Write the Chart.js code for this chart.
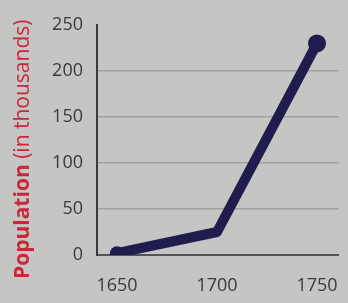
<!DOCTYPE html>
<html>
<head>
<meta charset="utf-8">
<script src="https://cdn.jsdelivr.net/npm/chart.js@4"></script>
<style>
  html, body { margin: 0; padding: 0; background: #c5c5c3; }
  #wrap { width: 348px; height: 303px; position: relative; }
</style>
</head>
<body>
<div id="wrap"><canvas id="chart"></canvas></div>
<script>
// data
const years = [1650, 1700, 1750];
const population = [2, 25, 230];
const yTicks = [0, 50, 100, 150, 200, 250];

// rotated y title, "Population" bold + "(in thousands)" regular
const yTitle = {
  id: 'yTitle',
  afterDraw(chart) {
    const ctx = chart.ctx;
    ctx.save();
    ctx.translate(29, 279);
    ctx.rotate(-Math.PI / 2);
    ctx.fillStyle = '#c9283a';
    ctx.textBaseline = 'alphabetic';
    ctx.textAlign = 'left';
    ctx.font = 'bold 21px "Open Sans", sans-serif';
    ctx.fillText('Population', 0, 0);
    const w = ctx.measureText('Population ').width;
    ctx.font = '21px "Open Sans", sans-serif';
    ctx.fillText('(in thousands)', w, 0);
    ctx.restore();
  }
};

new Chart(document.getElementById('chart'), {
  type: 'line',
  data: {
    datasets: [{
      data: years.map((y, i) => ({ x: y, y: population[i] })),
      borderColor: '#211c4e',
      backgroundColor: '#211c4e',
      borderWidth: 10,
      tension: 0,
      pointRadius: [7, 0, 9],
      pointBorderWidth: 0,
      borderCapStyle: 'round',
      borderJoinStyle: 'round',
    }],
  },
  options: {
    responsive: true,
    maintainAspectRatio: false,
    animation: false,
    layout: { padding: { left: 0, top: 25, right: 8, bottom: 8 } },
    plugins: { legend: { display: false }, tooltip: { enabled: false } },
    scales: {
      x: {
        type: 'linear',
        min: 1640,
        max: 1761,
        afterBuildTicks: axis => { axis.ticks = years.map(v => ({ value: v })); },
        afterFit: axis => { axis.height = 40; axis.paddingLeft = 0; axis.paddingRight = 0; },
        grid: { display: false, drawTicks: false },
        border: { display: false },
        ticks: {
          padding: 20,
          color: '#3a3a3a',
          font: { family: 'Open Sans', size: 18 },
          callback: v => String(v),
        },
      },
      y: {
        min: 0,
        max: 250,
        afterBuildTicks: axis => { axis.ticks = yTicks.map(v => ({ value: v })); },
        afterFit: axis => { axis.width = 97; axis.paddingTop = 0; axis.paddingBottom = 0; },
        grid: {
          drawTicks: false,
          color: c => c.tick.value === 0 ? 'rgba(55,55,55,0.8)' : (c.tick.value === 250 ? 'rgba(0,0,0,0)' : 'rgba(80,80,80,0.3)'),
          lineWidth: c => c.tick.value === 0 ? 2 : 1.5,
        },
        border: { display: true, color: '#3a3a3a', width: 2 },
        ticks: {
          padding: 14,
          color: '#3a3a3a',
          font: { family: 'Open Sans', size: 18 },
        },
      },
    },
  },
  plugins: [yTitle],
});
</script>
</body>
</html>
